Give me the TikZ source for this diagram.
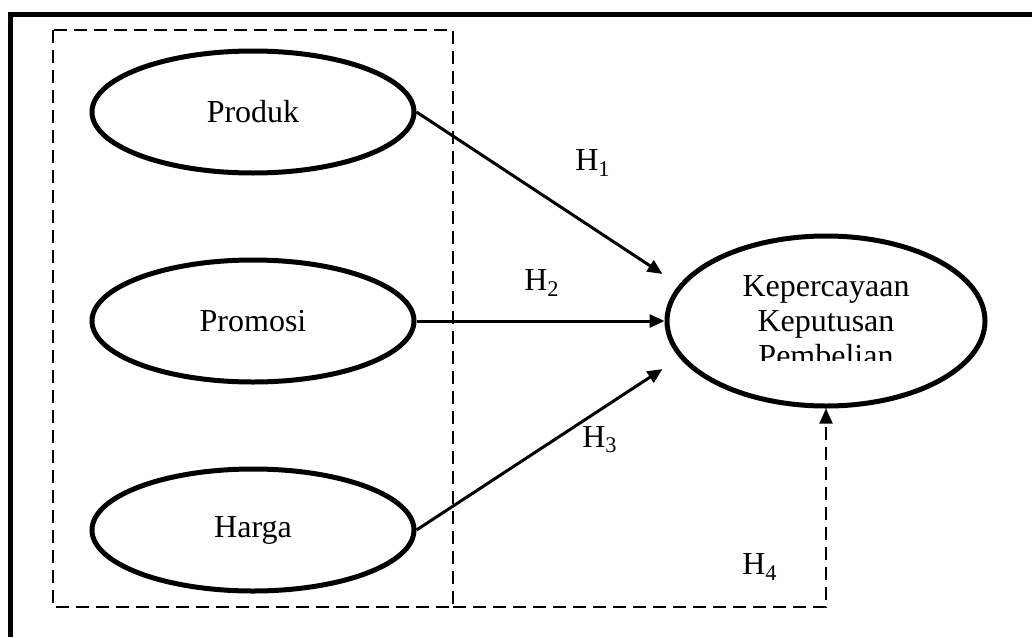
\documentclass[tikz,border=0pt]{standalone}
\usepackage{fontspec}
\setmainfont{Liberation Serif}
\usetikzlibrary{shapes.geometric,arrows.meta,calc,positioning}
\tikzstyle{latent} = [ellipse, draw, line width=2.5pt, minimum width=161pt, minimum height=61pt, inner sep=0pt]
\tikzstyle{target} = [ellipse, draw, line width=2.5pt, minimum width=159pt, minimum height=85pt, inner sep=0pt]
\tikzstyle{hyp} = [->, line width=1.5pt]
\tikzstyle{grp} = [line width=1pt, dash pattern=on 6.5pt off 3.5pt]
\tikzstyle{moder} = [->, grp]

\begin{document}
\begin{tikzpicture}[x=0.5pt,y=-0.5pt,>={Triangle[length=7.5pt,width=6.5pt]},node distance=104.5pt,font=\fontsize{16pt}{17.5pt}\selectfont]
  \useasboundingbox (0,0) rectangle (1032,637);
  \draw[line width=2.5pt] (10,637) |- (1032,14);

  \node[latent] (Produk) at (253,112) {Produk};
  \node[latent] (Promosi) [below of=Produk] {Promosi};
  \node[latent] (Harga) [below of=Promosi] {Harga};
  \node[target] (Kep) [right of=Promosi, node distance=286.5pt] {};
  \begin{scope}
    \clip ($(Kep.west)+(0,-100)$) rectangle ($(Kep.east)+(0,39)$);
    \node[align=center] (KepText) at (Kep.center) {Kepercayaan\\Keputusan\\Pembelian};
  \end{scope}

  \coordinate (kin1) at ($(Kep.west)+(-2,-47)$);
  \coordinate (kin3) at ($(Kep.west)+(-2,48)$);
  \coordinate (grpNW) at (53,30);
  \coordinate (grpSE) at (453,607);

  \draw[grp] (grpNW) rectangle (grpSE);
  \path[hyp] (Produk.east) edge (kin1);
  \path[hyp] (Promosi) edge (Kep);
  \path[hyp] (Harga.east) edge (kin3);
  \draw[moder] (grpSE) -| (Kep.south);

  \node (lblH1) at (593,163) {H\textsubscript{1}};
  \node (lblH2) at (542,283) {H\textsubscript{2}};
  \node (lblH3) at (600,440) {H\textsubscript{3}};
  \node (lblH4) at (760,567) {H\textsubscript{4}};
\end{tikzpicture}
\end{document}
